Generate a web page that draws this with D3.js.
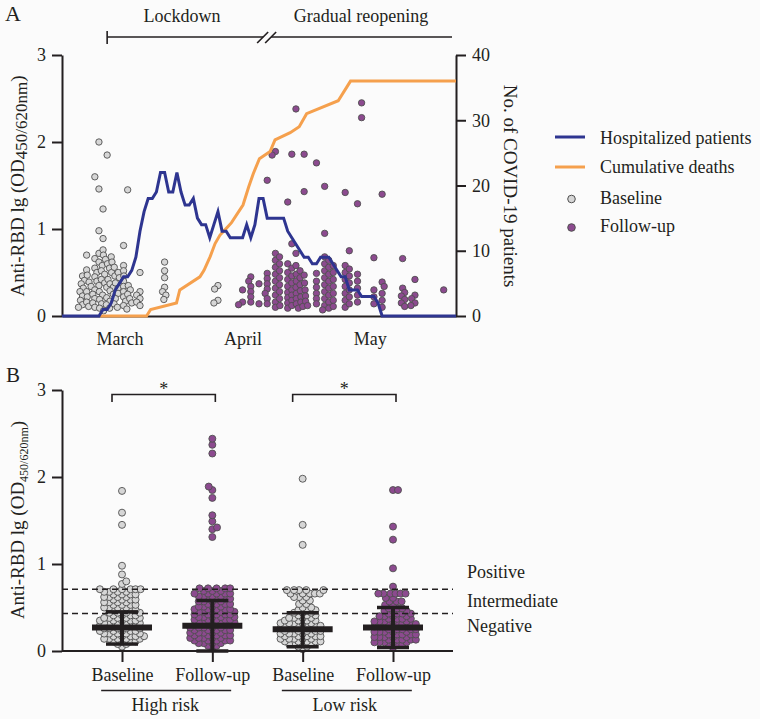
<!DOCTYPE html>
<html>
<head>
<meta charset="utf-8">
<script src="https://cdn.jsdelivr.net/npm/d3@7/dist/d3.min.js"></script>
<style>
  body { margin: 0; background: #fbfbfb; }
  svg { display: block; font-family: "Liberation Serif", "DejaVu Serif", serif; }
</style>
</head>
<body>
<svg id="chart" width="760" height="719"></svg>
<script>
// ---------- Panel A (day 0 = 1 March 2020) ----------
const monthLabels = ['March', 'April', 'May'];
const monthTickDays = [14, 44, 75];
const periodLabels = ['Lockdown', 'Gradual reopening'];
const lockdownDay = 11;
const breakDay = 49.5;

// hospitalized patients per day, index = day
const hospitalized = [
  0, 0, 0, 0, 0, 0, 0, 0, 0, 0,
  1, 1, 2, 4, 5, 6, 6, 7, 9, 13,
  16, 18, 18, 19, 22, 22, 19, 19, 22, 19,
  17, 17, 18, 15, 14, 14, 12, 14, 16, 13,
  13, 12, 12, 12, 12, 14, 12, 14, 18, 18,
  15, 15, 15, 15, 15, 13, 12, 11, 10, 9,
  9, 8, 8, 9, 9, 9, 8, 7, 6, 6,
  4, 4, 4, 3, 3, 3, 3, 2, 0, 0,
  0, 0, 0, 0, 0, 0, 0, 0, 0, 0,
  0, 0, 0, 0, 0, 0, 0
];

const deathDays   = [9.3, 20.6, 21.6, 27.9, 28.7, 33.6, 34.6, 36.1, 37.3, 38.5, 39.7, 41.3, 44.1, 45.5, 46.6, 48.1, 50.7, 51.9, 55.6, 57.8, 59.6, 67.3, 70.3, 96];
const deathCounts = [0, 0, 1, 2, 4, 6, 7, 9.1, 11.1, 12.4, 13.2, 14.3, 17, 19.8, 21.8, 24.1, 25.2, 27, 28.1, 29, 31, 33, 36, 36];

const baselineDays = [5, 6, 8, 9, 10, 11, 12, 15, 16, 19, 25, 38];
const baselineValues = [
  [0.46, 0.41, 0.37, 0.32, 0.28, 0.23, 0.18, 0.13, 0.10],
  [0.70, 0.53, 0.47, 0.39, 0.34, 0.28, 0.22, 0.16, 0.11],
  [1.60, 0.66, 0.55, 0.50, 0.45, 0.40, 0.35, 0.30, 0.25, 0.20, 0.15, 0.10],
  [2.00, 1.46, 0.98, 0.72, 0.62, 0.58, 0.52, 0.48, 0.42, 0.38, 0.33, 0.28, 0.24, 0.19, 0.14, 0.09],
  [1.23, 0.89, 0.76, 0.70, 0.65, 0.60, 0.55, 0.50, 0.46, 0.42, 0.37, 0.33, 0.29, 0.25, 0.21, 0.17, 0.13, 0.09, 0.06],
  [1.85],
  [0.68, 0.62, 0.56, 0.50, 0.44, 0.38, 0.32, 0.26, 0.20, 0.14, 0.10],
  [0.81, 0.58, 0.52, 0.46, 0.40, 0.34, 0.28, 0.22, 0.17, 0.12, 0.08],
  [1.45, 0.35, 0.30, 0.25, 0.20, 0.15],
  [0.50, 0.28, 0.24, 0.20, 0.16, 0.12],
  [0.62, 0.52, 0.44, 0.33, 0.28, 0.24, 0.19],
  [0.35, 0.31, 0.18, 0.15]
];

const followDays = [44, 46, 48, 50, 52, 53, 55, 56, 57, 58, 59, 62, 64, 65, 66, 69, 70, 72, 73, 76, 78, 83, 86, 93];
const followValues = [
  [0.30, 0.16, 0.13],
  [0.45, 0.40, 0.34, 0.28, 0.22, 0.16],
  [0.37, 0.14],
  [1.56, 0.49, 0.43, 0.37, 0.31, 0.26, 0.20, 0.14],
  [1.89, 1.85, 0.72, 0.64, 0.56, 0.48, 0.40, 0.32, 0.24, 0.16, 0.10],
  [0.68, 0.60, 0.52, 0.44, 0.36, 0.28, 0.20, 0.12],
  [1.31, 0.60, 0.50, 0.42, 0.34, 0.27, 0.21, 0.15, 0.09],
  [1.86, 0.83, 0.55, 0.46, 0.38, 0.30, 0.24, 0.18, 0.12],
  [2.38, 0.72, 0.58, 0.48, 0.40, 0.33, 0.26, 0.20, 0.14, 0.09],
  [0.52, 0.44, 0.36, 0.29, 0.22, 0.16, 0.11],
  [1.86, 1.43, 0.47, 0.38, 0.30, 0.23, 0.17, 0.12],
  [1.76, 0.49, 0.40, 0.33, 0.26, 0.20, 0.14],
  [1.49, 0.95, 0.68, 0.60, 0.52, 0.44, 0.36, 0.28, 0.20, 0.12, 0.07],
  [0.64, 0.56, 0.48, 0.40, 0.32, 0.24, 0.16, 0.09],
  [0.58, 0.50, 0.42, 0.34, 0.26, 0.18, 0.11],
  [1.42, 0.58, 0.50, 0.42, 0.34, 0.26, 0.18, 0.10],
  [0.75, 0.54, 0.46, 0.38, 0.30, 0.22, 0.14],
  [1.29, 0.48, 0.40, 0.32, 0.24, 0.16],
  [2.45, 2.28],
  [0.67, 0.30, 0.22, 0.14],
  [1.40, 0.39, 0.34, 0.26, 0.18, 0.10],
  [0.66, 0.32, 0.27, 0.23, 0.19, 0.15, 0.11],
  [0.42, 0.24, 0.20, 0.15, 0.12],
  [0.30]
];

const legendLabels = ['Hospitalized patients', 'Cumulative deaths', 'Baseline', 'Follow-up'];

// ---------- Panel B ----------
const groupKeys = ['hrBase', 'hrFollow', 'lrBase', 'lrFollow'];
const groupTickLabels = ['Baseline', 'Follow-up', 'Baseline', 'Follow-up'];
const riskLabels = ['High risk', 'Low risk'];
const thresholds = [0.71, 0.43];
const thresholdLabels = ['Positive', 'Intermediate', 'Negative'];

// [value, number of samples]
const hrBaseline = [[0.05,1],[0.08,2],[0.11,4],[0.14,5],[0.17,5],[0.20,5],[0.23,5],[0.26,5],[0.29,5],[0.32,5],[0.35,5],[0.38,5],[0.41,4],[0.44,4],[0.47,4],[0.50,4],[0.53,4],[0.56,4],[0.59,4],[0.62,4],[0.65,4],[0.68,4],[0.71,6],[0.77,1],[0.80,1],[0.88,1],[0.98,1],[1.45,1],[1.59,1],[1.84,1]];
const hrFollowUp = [[0.03,1],[0.06,2],[0.09,4],[0.12,5],[0.15,5],[0.18,5],[0.21,5],[0.24,5],[0.27,5],[0.30,5],[0.33,5],[0.36,5],[0.39,5],[0.42,5],[0.45,5],[0.48,5],[0.51,4],[0.54,4],[0.57,4],[0.60,4],[0.63,4],[0.66,5],[0.69,3],[0.72,5],[1.31,1],[1.40,1],[1.42,1],[1.49,1],[1.56,1],[1.76,1],[1.85,1],[1.89,1],[2.27,1],[2.37,1],[2.44,1]];
const lrBaseline = [[0.02,1],[0.05,2],[0.08,4],[0.11,5],[0.14,5],[0.17,5],[0.20,5],[0.23,5],[0.26,5],[0.29,5],[0.32,5],[0.35,4],[0.38,4],[0.41,3],[0.44,3],[0.47,3],[0.50,2],[0.54,2],[0.58,2],[0.62,3],[0.66,5],[0.70,5],[1.22,1],[1.45,1],[1.98,1]];
const lrFollowUp = [[0.04,1],[0.07,3],[0.10,5],[0.13,5],[0.16,5],[0.19,5],[0.22,5],[0.25,5],[0.28,5],[0.31,5],[0.34,5],[0.37,4],[0.40,4],[0.43,4],[0.46,3],[0.49,3],[0.53,2],[0.57,3],[0.61,2],[0.66,6],[0.74,1],[0.95,1],[1.28,1],[1.43,1],[1.85,2]];

const groupMedian = [0.27, 0.29, 0.25, 0.27];
const groupUpper  = [0.45, 0.58, 0.44, 0.50];
const groupLower  = [0.08, 0.00, 0.05, 0.04];

// ---------- drawing ----------
const ink = '#231f20';
const blue = '#2e3590';
const orange = '#f5a04d';
const purple = '#8c4a8f';
const grey = '#d6d6d6';
const dotStroke = '#4f4f4f';

const svg = d3.select('#chart');

// deterministic beeswarm: keep y, push x sideways until no overlap
function beeswarm(pts, dist) {
  const placed = [];
  pts.forEach((p, i) => {
    const near = placed.filter(q => Math.abs(q.py - p.py) < dist);
    const cands = [p.cx];
    near.forEach(q => {
      const dx = Math.sqrt(dist * dist - (q.py - p.py) ** 2) + 0.01;
      cands.push(q.px - dx, q.px + dx);
    });
    cands.sort((a, b) => (Math.abs(a - p.cx) - Math.abs(b - p.cx)) || (i % 2 ? b - a : a - b));
    p.px = cands.find(c => near.every(q => (q.px - c) ** 2 + (q.py - p.py) ** 2 >= dist * dist - 0.05));
    placed.push(p);
  });
  return placed;
}

function styleAxis(g, size) {
  g.attr('font-family', null).attr('font-size', size);
  g.selectAll('.domain, .tick line').attr('stroke', ink).attr('stroke-width', 2);
  g.selectAll('.tick text').attr('fill', ink);
}

// ===== Panel A =====
const x = d3.scaleLinear().domain([0, 96]).range([62, 456]);
const yA = d3.scaleLinear().domain([0, 3]).range([316, 55]);
const yCount = d3.scaleLinear().domain([0, 40]).range([316, 55]);

svg.append('text').attr('x', 5).attr('y', 21).attr('font-size', 22).attr('fill', ink).text('A');

// period bracket
const bracket = svg.append('g').attr('stroke', ink).attr('stroke-width', 1.6).attr('fill', 'none');
bracket.append('line').attr('x1', x(lockdownDay)).attr('x2', x(lockdownDay)).attr('y1', 31).attr('y2', 44);
bracket.append('line').attr('x1', x(lockdownDay)).attr('x2', x(breakDay) - 2).attr('y1', 37).attr('y2', 37);
bracket.append('line').attr('x1', x(breakDay) + 6).attr('x2', 452).attr('y1', 37).attr('y2', 37);
[-2, 6].forEach(o => {
  bracket.append('line')
    .attr('x1', x(breakDay) + o - 6).attr('y1', 43)
    .attr('x2', x(breakDay) + o + 5).attr('y2', 32);
});
svg.append('text').attr('x', 182).attr('y', 22).attr('text-anchor', 'middle')
  .attr('font-size', 18).attr('fill', ink).text(periodLabels[0]);
svg.append('text').attr('x', 361).attr('y', 22).attr('text-anchor', 'middle')
  .attr('font-size', 18).attr('fill', ink).text(periodLabels[1]);

// axes
const axL = svg.append('g').attr('transform', 'translate(62,0)')
  .call(d3.axisLeft(yA).tickValues([0, 1, 2, 3]).tickFormat(d3.format('d')).tickSize(10).tickSizeOuter(0).tickPadding(6));
styleAxis(axL, 18);
const axR = svg.append('g').attr('transform', 'translate(456,0)')
  .call(d3.axisRight(yCount).tickValues([0, 10, 20, 30, 40]).tickSize(10).tickSizeOuter(0).tickPadding(6));
styleAxis(axR, 18);
const axX = svg.append('g').attr('transform', 'translate(0,316)')
  .call(d3.axisBottom(x).tickValues(monthTickDays).tickFormat((d, i) => monthLabels[i]).tickSize(0).tickSizeOuter(0).tickPadding(16));
styleAxis(axX, 18);

// scatter
function topPoints(days, values) {
  const pts = [];
  days.forEach((d, i) => values[i].forEach(v => pts.push({ cx: x(d), py: yA(v), v })));
  return beeswarm(pts, 4.8);
}
const basePts = topPoints(baselineDays, baselineValues);
const followPts = topPoints(followDays, followValues);

svg.append('g').selectAll('circle').data(basePts).join('circle')
  .attr('cx', d => d.px).attr('cy', d => d.py).attr('r', 3.2)
  .attr('fill', grey).attr('stroke', dotStroke).attr('stroke-width', 0.9);
svg.append('g').selectAll('circle').data(followPts).join('circle')
  .attr('cx', d => d.px).attr('cy', d => d.py).attr('r', 3.2)
  .attr('fill', purple).attr('stroke', dotStroke).attr('stroke-width', 0.9);

// lines
svg.append('path')
  .attr('d', d3.line().x((d, i) => x(deathDays[i])).y(d => yCount(d))(deathCounts))
  .attr('fill', 'none').attr('stroke', orange).attr('stroke-width', 3);
svg.append('path')
  .attr('d', d3.line().x((d, i) => x(i)).y(d => yCount(d))(hospitalized))
  .attr('fill', 'none').attr('stroke', blue).attr('stroke-width', 3);

// axis titles
const tA = svg.append('text').attr('transform', 'translate(24,186) rotate(-90)')
  .attr('text-anchor', 'middle').attr('font-size', 19).attr('fill', ink);
tA.append('tspan').text('Anti-RBD lg (OD');
tA.append('tspan').attr('dy', 3).attr('font-size', 17).text('450/620nm');
tA.append('tspan').attr('dy', -3).text(')');

svg.append('text').attr('transform', 'translate(504,186) rotate(90)')
  .attr('text-anchor', 'middle').attr('font-size', 19).attr('fill', ink)
  .text('No. of COVID-19 patients');

// legend
const leg = svg.append('g').attr('transform', 'translate(555,0)');
[blue, orange].forEach((c, i) => {
  leg.append('line').attr('x1', 0).attr('x2', 30).attr('y1', 137 + i * 30).attr('y2', 137 + i * 30)
    .attr('stroke', c).attr('stroke-width', 3);
});
[grey, purple].forEach((c, i) => {
  leg.append('circle').attr('cx', 16.5).attr('cy', 199 + i * 28.5).attr('r', 3.8)
    .attr('fill', c).attr('stroke', dotStroke).attr('stroke-width', 1);
});
legendLabels.forEach((t, i) => {
  leg.append('text').attr('x', 45).attr('y', [144, 173, 204, 232][i])
    .attr('font-size', 18).attr('fill', ink).text(t);
});

// ===== Panel B =====
const xB = d3.scalePoint().domain(groupKeys).range([122, 393]);
const yB = d3.scaleLinear().domain([0, 3]).range([651, 390]);
const groupData = [hrBaseline, hrFollowUp, lrBaseline, lrFollowUp];

svg.append('text').attr('x', 6).attr('y', 382).attr('font-size', 21).attr('fill', ink).text('B');

groupData.forEach((bins, gi) => {
  const pts = [];
  bins.forEach(([v, n]) => { for (let k = 0; k < n; k++) pts.push({ cx: xB(groupKeys[gi]), py: yB(v), v }); });
  beeswarm(pts, 5.0);
  svg.append('g').selectAll('circle').data(pts).join('circle')
    .attr('cx', d => d.px).attr('cy', d => d.py).attr('r', 3.5)
    .attr('fill', gi % 2 ? purple : grey).attr('stroke', dotStroke).attr('stroke-width', 0.9);
});

// threshold lines
thresholds.forEach(t => {
  svg.append('line').attr('x1', 62).attr('x2', 453).attr('y1', yB(t)).attr('y2', yB(t))
    .attr('stroke', ink).attr('stroke-width', 1.5).attr('stroke-dasharray', '6,4');
});
const labelY = [yB(thresholds[0]) - 11, (yB(thresholds[0]) + yB(thresholds[1])) / 2 + 5.5, yB(thresholds[1]) + 18];
thresholdLabels.forEach((t, i) => {
  svg.append('text').attr('x', 467).attr('y', labelY[i]).attr('font-size', 18).attr('fill', ink).text(t);
});

// median and range bars
groupKeys.forEach((k, i) => {
  const cx = xB(k);
  const g = svg.append('g').attr('stroke', ink);
  g.append('line').attr('x1', cx).attr('x2', cx).attr('y1', yB(groupUpper[i])).attr('y2', yB(groupLower[i])).attr('stroke-width', 4);
  g.append('line').attr('x1', cx - 16).attr('x2', cx + 16).attr('y1', yB(groupUpper[i])).attr('y2', yB(groupUpper[i])).attr('stroke-width', 3.5);
  g.append('line').attr('x1', cx - 16).attr('x2', cx + 16).attr('y1', yB(groupLower[i])).attr('y2', yB(groupLower[i])).attr('stroke-width', 3.5);
  g.append('line').attr('x1', cx - 30).attr('x2', cx + 30).attr('y1', yB(groupMedian[i])).attr('y2', yB(groupMedian[i])).attr('stroke-width', 6);
});

// significance brackets
[[0, 1], [2, 3]].forEach(([a, b]) => {
  const x1 = xB(groupKeys[a]) - 10, x2 = xB(groupKeys[b]) + 3;
  svg.append('path').attr('d', `M${x1},402V394.5H${x2}V402`)
    .attr('fill', 'none').attr('stroke', ink).attr('stroke-width', 1.6);
  svg.append('text').attr('x', (x1 + x2) / 2).attr('y', 395).attr('text-anchor', 'middle')
    .attr('font-size', 18).attr('fill', ink).text('*');
});

// axes
const axLB = svg.append('g').attr('transform', 'translate(62,0)')
  .call(d3.axisLeft(yB).tickValues([0, 1, 2, 3]).tickFormat(d3.format('d')).tickSize(10).tickSizeOuter(0).tickPadding(6));
styleAxis(axLB, 18);
svg.append('line').attr('x1', 62).attr('x2', 453).attr('y1', 651).attr('y2', 651)
  .attr('stroke', ink).attr('stroke-width', 2);
const axB = svg.append('g').attr('transform', 'translate(0,651)')
  .call(d3.axisBottom(xB).tickFormat((d, i) => groupTickLabels[i]).tickSize(11).tickPadding(6));
axB.select('.domain').remove();
styleAxis(axB, 18);

// risk group labels
riskLabels.forEach((t, i) => {
  const cx = (xB(groupKeys[i * 2]) + xB(groupKeys[i * 2 + 1])) / 2;
  svg.append('line').attr('x1', cx - 66).attr('x2', cx + 64).attr('y1', 690.5).attr('y2', 690.5)
    .attr('stroke', ink).attr('stroke-width', 1.6);
  svg.append('text').attr('x', cx - (i ? 3 : 2)).attr('y', 711).attr('text-anchor', 'middle')
    .attr('font-size', 18).attr('fill', ink).text(t);
});

const tB = svg.append('text').attr('transform', 'translate(24,520) rotate(-90)')
  .attr('text-anchor', 'middle').attr('font-size', 19).attr('fill', ink);
tB.append('tspan').text('Anti-RBD lg (OD');
tB.append('tspan').attr('dy', 4).attr('font-size', 12).text('450/620nm');
tB.append('tspan').attr('dy', -4).text(')');
</script>
</body>
</html>
